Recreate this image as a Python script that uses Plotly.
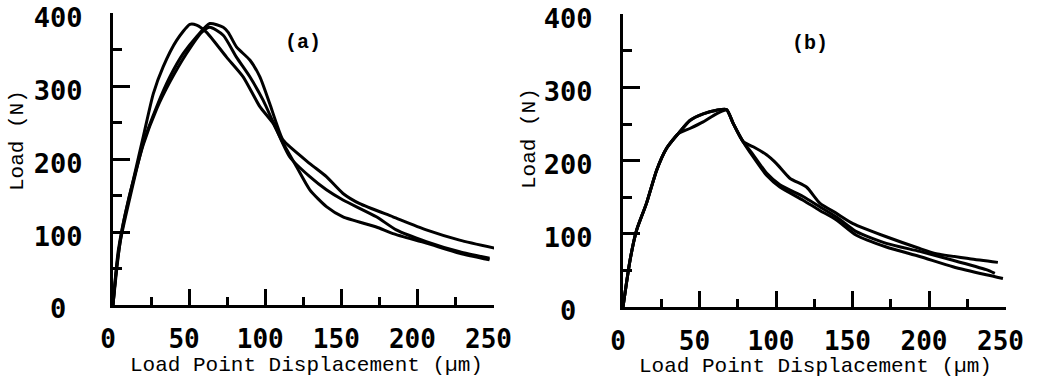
import plotly.graph_objects as go

# ---- Panel (a) data: displacement (um), load (N)
a1_x = [0, 2.4, 6.8, 13.3, 19.9, 26.5, 33.0, 41.8, 50.5, 54.9, 61.5, 74.6, 85.5, 96.5, 105.2, 111.8, 120.5, 129.3, 140.2, 151.1, 173.0, 183.9, 205.8, 227.7, 247.4]
a1_y = [0, 52, 112, 171, 231, 290, 327, 363, 385, 384, 374, 340, 313, 272, 249, 222, 190, 158, 135, 121, 107, 98, 85, 71, 62]
a2_x = [0, 4.6, 11.2, 19.9, 28.7, 37.4, 46.2, 54.9, 63.6, 72.4, 75.7, 81.1, 89.9, 96.5, 103.0, 107.4, 111.8, 129.3, 140.2, 151.1, 162.1, 183.9, 205.8, 227.7, 250.7]
a2_y = [0, 85, 148, 222, 272, 313, 345, 368, 386, 381, 374, 354, 336, 313, 276, 249, 226, 194, 176, 153, 139, 121, 103, 89, 78]
a3_x = [0, 3.5, 10.1, 19.9, 28.7, 37.4, 48.3, 58.2, 63.6, 72.4, 81.1, 89.9, 98.6, 105.2, 116.1, 129.3, 140.2, 151.1, 173.0, 186.1, 205.8, 227.7, 247.4]
a3_y = [0, 75, 144, 220, 269, 306, 345, 374, 381, 370, 340, 313, 281, 251, 203, 176, 158, 144, 121, 103, 87, 73, 64]

# ---- Panel (b) data
b1_x = [0, 4.6, 8.9, 15.4, 22.0, 28.5, 36.1, 43.7, 52.4, 61.1, 67.7, 72.0, 78.5, 85.1, 93.8, 102.5, 117.7, 128.6, 139.5, 152.5, 172.1, 193.9, 215.6, 237.4, 248.3]
b1_y = [0, 64, 105, 142, 187, 217, 237, 244, 253, 264, 269, 251, 226, 205, 180, 164, 146, 132, 119, 98, 82, 69, 55, 44, 39]
b2_x = [0, 4.6, 8.9, 15.4, 22.0, 28.5, 36.1, 43.7, 52.4, 61.1, 67.7, 72.0, 78.5, 85.1, 93.8, 100.3, 109.0, 119.9, 128.6, 139.5, 150.3, 172.1, 193.9, 204.7, 226.5, 245.0]
b2_y = [0, 64, 105, 142, 187, 217, 237, 255, 264, 269, 270, 251, 226, 219, 208, 196, 176, 164, 142, 128, 114, 96, 80, 73, 66, 61]
b3_x = [0, 4.6, 8.9, 15.4, 22.0, 28.5, 36.1, 43.7, 52.4, 61.1, 67.7, 72.0, 78.5, 85.1, 93.8, 102.5, 117.7, 128.6, 139.5, 152.5, 172.1, 193.9, 215.6, 237.4, 243.0]
b3_y = [0, 64, 105, 142, 187, 217, 237, 255, 264, 269, 270, 251, 226, 208, 183, 167, 151, 137, 123, 103, 87, 76, 64, 51, 46]

x_tickvals = [0, 50, 100, 150, 200, 250]
x_ticktext = ["0", "50", "100", "150", "200", "250"]
y_tickvals = [0, 100, 200, 300, 400]
y_ticktext = ["0\u00a0", "100", "200", "300", "400"]

panel_labels = ["(a)", "(b)"]
x_title = "Load Point Displacement (\u00b5m)"
y_title = "Load (N)"

MONO = "Liberation Mono, Courier New, monospace"
XTICKFONT = dict(family="DejaVu Sans Mono", size=26, color="black", weight="bold")
YTICKFONT = dict(family="DejaVu Sans Mono", size=27, color="black", weight="bold")
TITLEFONT = dict(family=MONO, size=21, color="black")

fig = go.Figure()
line_style = dict(color="black", width=3)
for xs, ys in [(a1_x, a1_y), (a2_x, a2_y), (a3_x, a3_y)]:
    fig.add_trace(go.Scatter(x=xs, y=ys, mode="lines", line=dict(**line_style, shape="spline", smoothing=0.6),
                             xaxis="x", yaxis="y", showlegend=False, cliponaxis=False))
for xs, ys in [(b1_x, b1_y), (b2_x, b2_y), (b3_x, b3_y)]:
    fig.add_trace(go.Scatter(x=xs, y=ys, mode="lines", line=dict(**line_style, shape="spline", smoothing=0.6),
                             xaxis="x2", yaxis="y2", showlegend=False, cliponaxis=False))

W, H = 1043, 386

def xax(d0, d1, anchor):
    return dict(domain=[d0 / W, d1 / W], range=[0, 250.3], anchor=anchor, automargin=False,
                showline=True, linewidth=3, linecolor="black", showgrid=False, zeroline=False,
                tickmode="array", tickvals=x_tickvals, ticktext=x_ticktext,
                ticks="inside", ticklen=16, tickwidth=2.5, tickcolor="black",
                minor=dict(dtick=25, ticks="inside", ticklen=8, tickwidth=2.5, tickcolor="black", showgrid=False),
                tickfont=XTICKFONT, ticklabelstandoff=9, ticklabelshift=-5, ticklabeloverflow="allow")

def yax(top, bot, anchor):
    return dict(domain=[(H - bot) / H, (H - top) / H], range=[0, 400.5], anchor=anchor, automargin=False,
                showline=True, linewidth=3, linecolor="black", showgrid=False, zeroline=False,
                tickmode="array", tickvals=y_tickvals, ticktext=y_ticktext,
                ticks="inside", ticklen=17, tickwidth=2.5, tickcolor="black",
                minor=dict(dtick=50, ticks="inside", ticklen=9, tickwidth=2.5, tickcolor="black", showgrid=False),
                tickfont=YTICKFONT, ticklabelstandoff=22, ticklabelshift=4, ticklabeloverflow="allow")

fig.update_layout(
    width=W, height=H,
    margin=dict(l=0, r=0, t=0, b=0),
    paper_bgcolor="white", plot_bgcolor="white",
    xaxis=xax(113, 494, "y"),
    yaxis=yax(13, 305, "x"),
    xaxis2=xax(623, 1006, "y2"),
    yaxis2=yax(14, 307, "x2"),
    annotations=[
        dict(text=panel_labels[0], x=125, y=360, xref="x", yref="y", showarrow=False,
             font=dict(family=MONO, size=20, color="black", weight="bold")),
        dict(text=panel_labels[1], x=122, y=360, xref="x2", yref="y2", showarrow=False,
             font=dict(family=MONO, size=20, color="black", weight="bold")),
        # axis titles
        dict(text=x_title, x=306 / W, y=1 - 365 / H, xref="paper", yref="paper", showarrow=False,
             xanchor="center", yanchor="middle", font=TITLEFONT),
        dict(text=x_title, x=815 / W, y=1 - 366 / H, xref="paper", yref="paper", showarrow=False,
             xanchor="center", yanchor="middle", font=TITLEFONT),
        dict(text=y_title, x=17 / W, y=1 - 141 / H, xref="paper", yref="paper", showarrow=False,
             xanchor="center", yanchor="middle", textangle=-90, font=TITLEFONT),
        dict(text=y_title, x=530 / W, y=1 - 139 / H, xref="paper", yref="paper", showarrow=False,
             xanchor="center", yanchor="middle", textangle=-90, font=TITLEFONT),
    ],
)

fig.write_html("out.html")
